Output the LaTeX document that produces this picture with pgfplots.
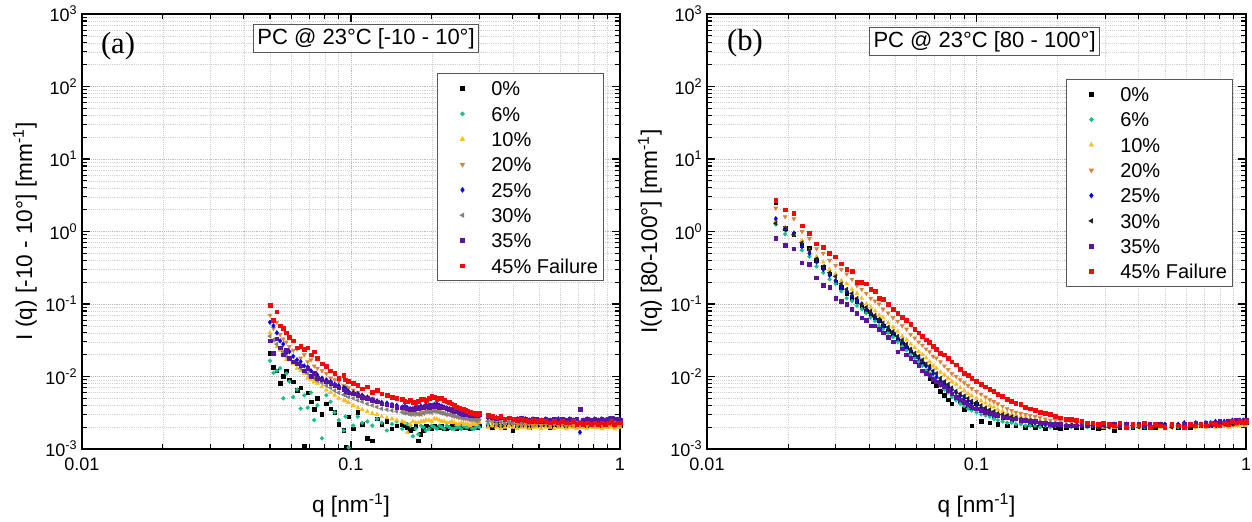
\documentclass[border=0pt]{standalone}
\usepackage{fontspec}
\setmainfont{Liberation Sans}
\newfontfamily\serifb{Liberation Serif}
\usepackage{pgfplots}
\usepackage{pgfplotstable}
\pgfplotsset{compat=1.18}

\definecolor{c0}{RGB}{0,0,0}
\definecolor{c6}{RGB}{25,190,140}
\definecolor{c10}{RGB}{250,190,30}
\definecolor{c20}{RGB}{220,130,55}
\definecolor{c25}{RGB}{10,10,220}
\definecolor{c30a}{RGB}{128,128,128}
\definecolor{c30b}{RGB}{35,35,35}
\definecolor{c35}{RGB}{90,20,160}
\definecolor{c45}{RGB}{240,10,10}

\pgfplotstableread{
q s0 s6 s10 s20 s25 s30 s35 s45
0.0500 0.021 0.0165 0.040 0.070 0.056 0.036 0.031 0.095
0.0515 0.0135 0.0112 0.031 0.046 0.050 0.032 0.021 0.060
0.0530 0.0120 0.0120 0.026 0.056 0.040 0.028 0.033 0.078
0.0545 0.0081 0.0130 0.023 0.038 0.031 0.025 0.025 0.050
0.0560 0.0100 0.0050 0.020 0.033 0.028 0.022 0.020 0.046
0.0575 0.0120 0.0110 0.017 0.030 0.021 0.019 0.023 0.040
0.0590 0.0090 0.0085 0.018 0.026 0.022 0.018 0.018 0.035
0.0610 0.0085 0.0052 0.015 0.023 0.019 0.016 0.016 0.031
0.0630 0.0065 0.0066 0.013 0.024 0.017 0.015 0.015 0.025
0.0650 0.0070 0.0036 0.012 0.018 0.016 0.013 0.014 0.026
0.0670 0.0011 0.0055 0.011 0.020 0.014 0.012 0.012 0.024
0.0690 0.0060 0.0037 0.0095 0.016 0.0135 0.011 0.013 0.025
0.0710 0.0045 0.0060 0.0090 0.017 0.012 0.010 0.010 0.020
0.0730 0.0035 0.0025 0.0085 0.014 0.011 0.0095 0.011 0.022
0.0750 0.0050 0.0040 0.0080 0.013 0.0105 0.0088 0.0095 0.018
0.0780 0.0030 0.0014 0.0072 0.012 0.0095 0.0082 0.0090 0.015
0.0810 0.0042 0.0055 0.0065 0.011 0.0090 0.0075 0.0085 0.014
0.0840 0.0036 0.0045 0.0060 0.0095 0.0085 0.0070 0.0080 0.012
0.0870 0.0032 0.0032 0.0055 0.0090 0.0078 0.0064 0.0075 0.011
0.0900 0.0022 0.0025 0.0050 0.0085 0.0075 0.0060 0.0070 0.0095
0.0940 0.0018 0.0018 0.0047 0.0075 0.0070 0.0056 0.0066 0.0105
0.0955 0.00105 0.0028 0.0046 0.0072 0.0068 0.0055 0.0062 0.0090
0.0980 0.0028 0.00105 0.0044 0.0070 0.0062 0.0052 0.0060 0.0085
0.1020 0.0019 0.0021 0.0040 0.0065 0.0060 0.0050 0.0058 0.0080
0.1060 0.0032 0.0028 0.0037 0.0060 0.0058 0.0047 0.0055 0.0075
0.1100 0.0022 0.0023 0.0035 0.0055 0.0055 0.0045 0.0052 0.0068
0.1150 0.0014 0.0024 0.0033 0.0052 0.0052 0.0042 0.0050 0.0072
0.1200 0.0013 0.0021 0.0031 0.0050 0.0048 0.0040 0.0047 0.0060
0.1250 0.0026 0.0026 0.0030 0.0046 0.0046 0.0038 0.0045 0.0065
0.1300 0.0022 0.0023 0.0028 0.0043 0.0044 0.0036 0.0042 0.0058
0.1360 0.0024 0.0018 0.0027 0.0041 0.0043 0.0035 0.0041 0.0055
0.1420 0.0019 0.0022 0.0026 0.0039 0.0041 0.0034 0.0040 0.0052
0.1480 0.0021 0.0024 0.0025 0.0037 0.0040 0.0033 0.0038 0.0050
0.1550 0.0022 0.0019 0.0024 0.0035 0.0038 0.0032 0.0037 0.0048
0.1585 0.0021 0.0023 0.0023 0.0034 0.0039 0.0031 0.0038 0.0046
0.1620 0.0020 0.0022 0.0017 0.0033 0.0037 0.0031 0.0036 0.0045
0.1660 0.0018 0.0021 0.0022 0.0031 0.0036 0.0030 0.0035 0.0047
0.1700 0.0019 0.0015 0.0024 0.0032 0.0036 0.0030 0.0035 0.0044
0.1740 0.0021 0.0019 0.0023 0.0030 0.0038 0.0031 0.0037 0.0043
0.1780 0.0013 0.0016 0.0023 0.0031 0.0037 0.0030 0.0036 0.0046
0.1820 0.0016 0.0021 0.0024 0.0033 0.0039 0.0030 0.0038 0.0049
0.1860 0.0018 0.0020 0.0024 0.0032 0.0038 0.0031 0.0037 0.0048
0.1900 0.0021 0.0018 0.0025 0.0032 0.0041 0.0033 0.0039 0.0047
0.1950 0.0020 0.0019 0.0025 0.0033 0.0040 0.0032 0.0038 0.0050
0.1995 0.0019 0.0021 0.0024 0.0034 0.0039 0.0032 0.0040 0.0054
0.2040 0.0021 0.0020 0.0026 0.0034 0.0041 0.0033 0.0039 0.0052
0.2085 0.0020 0.0019 0.0026 0.0033 0.0042 0.0033 0.0039 0.0049
0.2130 0.0020 0.0021 0.0025 0.0033 0.0040 0.0032 0.0038 0.0050
0.2175 0.0021 0.0020 0.0024 0.0032 0.0039 0.0031 0.0037 0.0051
0.2220 0.0019 0.0019 0.0024 0.0031 0.0038 0.0031 0.0037 0.0047
0.2270 0.0019 0.0021 0.0023 0.0030 0.0037 0.0030 0.0036 0.0045
0.2320 0.0020 0.0020 0.0023 0.0030 0.0036 0.0030 0.0035 0.0044
0.2370 0.0021 0.0019 0.0024 0.0029 0.0035 0.0029 0.0034 0.0042
0.2420 0.0021 0.0019 0.0023 0.0028 0.0034 0.0029 0.0033 0.0040
0.2470 0.0019 0.0020 0.0022 0.0028 0.0033 0.0028 0.0033 0.0038
0.2520 0.0020 0.0020 0.0022 0.0027 0.0032 0.0028 0.0032 0.0037
0.2570 0.0021 0.0019 0.0023 0.0027 0.0031 0.0027 0.0031 0.0036
0.2620 0.0020 0.0021 0.0022 0.0026 0.0031 0.0027 0.0030 0.0035
0.2670 0.0020 0.0020 0.0022 0.0026 0.0030 0.0027 0.0031 0.0034
0.2720 0.0021 0.0020 0.0022 0.0026 0.0030 0.0026 0.0030 0.0033
0.2770 0.0019 0.0021 0.0021 0.0025 0.0030 0.0026 0.0029 0.0032
0.2820 0.0020 0.0019 0.0022 0.0025 0.0029 0.0026 0.0029 0.0031
0.2870 0.0021 0.0019 0.0022 0.0026 0.0028 0.0025 0.0030 0.0031
0.2920 0.0021 0.0020 0.0022 0.0025 0.0028 0.0025 0.0029 0.0030
0.2960 0.0020 0.0021 0.0023 0.0024 0.0029 0.0026 0.0029 0.0030
0.3000 0.0021 0.0020 0.0023 0.0025 0.0029 0.0026 0.0030 0.0031
0.323 0.0021 0.0022 0.0020 0.0024 0.0027 0.0024 0.0028 0.0029
0.335 0.0020 0.0021 0.0021 0.0023 0.0026 0.0025 0.0027 0.0028
0.347 0.0022 0.0022 0.0020 0.0022 0.0027 0.0024 0.0026 0.0027
0.360 0.0021 0.0021 0.0019 0.0023 0.0026 0.0024 0.0027 0.0028
0.373 0.0020 0.0022 0.0020 0.0022 0.0025 0.0023 0.0026 0.0026
0.387 0.0022 0.0021 0.0021 0.0023 0.0026 0.0024 0.0027 0.0027
0.400 0.0018 0.0022 0.0020 0.0022 0.0025 0.0023 0.0026 0.0026
0.415 0.0021 0.0021 0.0019 0.0022 0.0026 0.0024 0.0026 0.0025
0.430 0.0022 0.0022 0.0020 0.0021 0.0025 0.0023 0.0027 0.0026
0.445 0.0021 0.0021 0.0020 0.0022 0.0026 0.0024 0.0026 0.0025
0.460 0.0020 0.0022 0.0019 0.0022 0.0025 0.0023 0.0025 0.0024
0.475 0.0022 0.0021 0.0020 0.0021 0.0026 0.0024 0.0026 0.0025
0.490 0.0021 0.0022 0.0020 0.0022 0.0025 0.0023 0.0026 0.0024
0.510 0.0022 0.0021 0.0019 0.0021 0.0025 0.0024 0.0025 0.0025
0.530 0.0021 0.0022 0.0020 0.0022 0.0026 0.0023 0.0026 0.0024
0.550 0.0020 0.0021 0.0020 0.0021 0.0025 0.0024 0.0025 0.0023
0.570 0.0022 0.0022 0.0019 0.0022 0.0025 0.0023 0.0026 0.0024
0.590 0.0021 0.0021 0.0020 0.0021 0.0026 0.0024 0.0025 0.0023
0.610 0.0022 0.0022 0.0020 0.0022 0.0025 0.0023 0.0026 0.0024
0.630 0.0021 0.0021 0.0019 0.0021 0.0025 0.0024 0.0025 0.0023
0.650 0.0022 0.0022 0.0020 0.0022 0.0026 0.0023 0.0026 0.0023
0.670 0.0021 0.0021 0.0020 0.0021 0.0025 0.0024 0.0025 0.0024
0.690 0.0022 0.0022 0.0019 0.0022 0.0025 0.0023 0.0026 0.0022
0.710 0.0021 0.0021 0.0020 0.0021 0.0017 0.0024 0.0035 0.0023
0.730 0.0022 0.0022 0.0020 0.0022 0.0025 0.0023 0.0025 0.0022
0.755 0.0021 0.0021 0.0019 0.0021 0.0026 0.0024 0.0026 0.0023
0.780 0.0022 0.0022 0.0020 0.0022 0.0025 0.0023 0.0025 0.0022
0.805 0.0021 0.0021 0.0020 0.0021 0.0026 0.0024 0.0026 0.0023
0.830 0.0022 0.0022 0.0020 0.0022 0.0025 0.0023 0.0025 0.0022
0.855 0.0021 0.0021 0.0019 0.0021 0.0026 0.0024 0.0026 0.0023
0.880 0.0022 0.0022 0.0020 0.0022 0.0025 0.0023 0.0025 0.0022
0.905 0.0021 0.0021 0.0020 0.0021 0.0026 0.0024 0.0026 0.0023
0.930 0.0022 0.0022 0.0020 0.0022 0.0025 0.0023 0.0027 0.0024
0.955 0.0021 0.0021 0.0019 0.0021 0.0026 0.0024 0.0026 0.0022
0.980 0.0022 0.0022 0.0020 0.0022 0.0025 0.0023 0.0026 0.0023
1.000 0.0021 0.0021 0.0020 0.0021 0.0026 0.0024 0.0025 0.0023
}\tabA

\pgfplotstableread{
q s0 s6 s10 s20 s25 s30 s35 s45
0.0180 2.55 1.25 1.40 2.10 1.50 1.30 0.80 2.70
0.0195 1.10 0.92 1.15 1.60 1.10 1.05 0.65 2.00
0.0210 0.92 0.90 0.95 1.50 0.95 0.90 0.58 1.80
0.0225 0.65 0.55 0.75 1.00 0.62 0.70 0.37 1.20
0.0240 0.60 0.45 0.55 0.80 0.50 0.55 0.35 0.95
0.0255 0.40 0.33 0.45 0.58 0.38 0.42 0.23 0.68
0.0270 0.32 0.27 0.38 0.50 0.30 0.33 0.18 0.60
0.0285 0.26 0.22 0.30 0.40 0.25 0.27 0.17 0.50
0.0300 0.20 0.19 0.26 0.34 0.21 0.24 0.12 0.45
0.0315 0.17 0.15 0.21 0.30 0.17 0.19 0.11 0.36
0.0330 0.14 0.12 0.19 0.26 0.15 0.16 0.10 0.30
0.0345 0.12 0.11 0.16 0.22 0.13 0.14 0.085 0.28
0.0360 0.11 0.095 0.14 0.18 0.11 0.12 0.075 0.20
0.0375 0.090 0.085 0.12 0.16 0.10 0.10 0.065 0.20
0.0390 0.080 0.075 0.10 0.14 0.085 0.090 0.060 0.19
0.0405 0.070 0.065 0.090 0.12 0.075 0.080 0.050 0.16
0.0420 0.065 0.058 0.080 0.11 0.065 0.070 0.050 0.15
0.0435 0.060 0.050 0.070 0.10 0.058 0.062 0.045 0.12
0.0450 0.050 0.045 0.065 0.085 0.050 0.055 0.040 0.115
0.0470 0.042 0.040 0.055 0.075 0.045 0.048 0.035 0.10
0.0490 0.038 0.035 0.048 0.065 0.040 0.042 0.030 0.085
0.0510 0.032 0.030 0.042 0.058 0.034 0.036 0.022 0.075
0.0530 0.028 0.026 0.036 0.050 0.030 0.032 0.024 0.065
0.0550 0.025 0.023 0.032 0.045 0.026 0.028 0.020 0.060
0.0570 0.022 0.020 0.028 0.038 0.023 0.024 0.018 0.052
0.0590 0.019 0.018 0.025 0.034 0.020 0.021 0.016 0.045
0.0610 0.016 0.016 0.022 0.030 0.018 0.019 0.014 0.040
0.0630 0.015 0.014 0.020 0.027 0.016 0.017 0.012 0.036
0.0650 0.012 0.012 0.018 0.024 0.014 0.015 0.011 0.032
0.0670 0.0095 0.011 0.016 0.022 0.013 0.014 0.0105 0.030
0.0690 0.0085 0.0095 0.014 0.019 0.011 0.012 0.0092 0.026
0.0710 0.0075 0.0085 0.013 0.018 0.0098 0.011 0.0085 0.024
0.0735 0.0062 0.0075 0.0115 0.016 0.0088 0.0095 0.0078 0.021
0.0760 0.0055 0.0066 0.0105 0.014 0.0079 0.0085 0.0072 0.020
0.0785 0.0048 0.0060 0.0095 0.0125 0.0072 0.0078 0.0065 0.018
0.0810 0.0042 0.0052 0.0085 0.011 0.0066 0.0070 0.0058 0.016
0.0840 0.0052 0.0047 0.0078 0.010 0.0060 0.0063 0.0052 0.0145
0.0870 0.0045 0.0042 0.0070 0.0090 0.0054 0.0058 0.0048 0.0125
0.0900 0.0035 0.0039 0.0064 0.0082 0.0050 0.0054 0.0044 0.011
0.0930 0.0038 0.0036 0.0058 0.0075 0.0046 0.0050 0.0041 0.0105
0.0960 0.0021 0.0034 0.0054 0.0068 0.0043 0.0046 0.0038 0.0095
0.1000 0.0042 0.0032 0.0050 0.0062 0.0040 0.0044 0.0036 0.0085
0.1040 0.0024 0.0030 0.0046 0.0057 0.0037 0.0040 0.0034 0.0078
0.1080 0.0032 0.0029 0.0043 0.0052 0.0035 0.0037 0.0032 0.0072
0.1120 0.0023 0.0028 0.0040 0.0048 0.0033 0.0035 0.0031 0.0066
0.1160 0.0029 0.0026 0.0038 0.0045 0.0031 0.0033 0.0030 0.0062
0.1200 0.0022 0.0025 0.0035 0.0042 0.0030 0.0031 0.0029 0.0057
0.1250 0.0027 0.0024 0.0033 0.0039 0.0029 0.0030 0.0028 0.0053
0.1300 0.0021 0.0023 0.0031 0.0036 0.0028 0.0029 0.0027 0.0049
0.1350 0.0025 0.0023 0.0030 0.0034 0.0027 0.0028 0.0026 0.0046
0.1400 0.0021 0.0022 0.0029 0.0032 0.0026 0.0027 0.0026 0.0043
0.1460 0.0024 0.0022 0.0028 0.0031 0.0025 0.0026 0.0025 0.0041
0.1520 0.0020 0.0021 0.0027 0.0030 0.0025 0.0025 0.0025 0.0038
0.1580 0.0022 0.0021 0.0026 0.0029 0.0024 0.0025 0.0024 0.0036
0.1650 0.0020 0.0021 0.0025 0.0028 0.0023 0.0024 0.0024 0.0034
0.1720 0.0021 0.0020 0.0024 0.0027 0.0023 0.0023 0.0023 0.0032
0.1800 0.0019 0.0021 0.0024 0.0026 0.0022 0.0023 0.0023 0.0031
0.1880 0.0021 0.0020 0.0023 0.0025 0.0022 0.0022 0.0022 0.0030
0.1960 0.0020 0.0021 0.0023 0.0025 0.0022 0.0022 0.0022 0.0028
0.2050 0.0019 0.0021 0.0022 0.0024 0.0021 0.0022 0.0022 0.0027
0.2150 0.0020 0.0021 0.0022 0.0024 0.0021 0.0021 0.0021 0.0026
0.2250 0.0021 0.0020 0.0022 0.0023 0.0021 0.0021 0.0021 0.0026
0.2350 0.0020 0.0021 0.0021 0.0023 0.0021 0.0021 0.0021 0.0025
0.246 0.0020 0.0021 0.0021 0.0022 0.0021 0.0021 0.0022 0.0024
0.258 0.0021 0.0020 0.0022 0.0023 0.0021 0.0022 0.0021 0.0023
0.270 0.0020 0.0021 0.0021 0.0022 0.0022 0.0021 0.0022 0.0023
0.283 0.0019 0.0020 0.0021 0.0022 0.0021 0.0020 0.0021 0.0022
0.296 0.0020 0.0021 0.0020 0.0021 0.0022 0.0021 0.0022 0.0023
0.310 0.0021 0.0020 0.0021 0.0022 0.0021 0.0020 0.0021 0.0022
0.325 0.0018 0.0021 0.0020 0.0021 0.0022 0.0021 0.0022 0.0021
0.340 0.0020 0.0020 0.0021 0.0022 0.0021 0.0020 0.0021 0.0023
0.360 0.0021 0.0021 0.0020 0.0021 0.0022 0.0021 0.0022 0.0020
0.380 0.0020 0.0020 0.0021 0.0022 0.0021 0.0021 0.0021 0.0022
0.400 0.0021 0.0021 0.0020 0.0021 0.0022 0.0020 0.0022 0.0021
0.420 0.0020 0.0020 0.0021 0.0022 0.0021 0.0021 0.0021 0.0023
0.440 0.0021 0.0021 0.0020 0.0021 0.0022 0.0021 0.0022 0.0020
0.460 0.0020 0.0020 0.0021 0.0022 0.0021 0.0020 0.0021 0.0022
0.480 0.0021 0.0021 0.0020 0.0021 0.0022 0.0021 0.0022 0.0021
0.500 0.0020 0.0020 0.0021 0.0022 0.0022 0.0021 0.0021 0.0020
0.530 0.0021 0.0021 0.0020 0.0021 0.0021 0.0020 0.0022 0.0022
0.560 0.0020 0.0020 0.0021 0.0022 0.0022 0.0021 0.0021 0.0021
0.590 0.0021 0.0021 0.0020 0.0021 0.0023 0.0021 0.0022 0.0020
0.620 0.0020 0.0021 0.0021 0.0022 0.0022 0.0020 0.0022 0.0022
0.650 0.0021 0.0020 0.0020 0.0021 0.0023 0.0021 0.0023 0.0021
0.680 0.0021 0.0021 0.0021 0.0022 0.0022 0.0022 0.0022 0.0022
0.710 0.0022 0.0020 0.0020 0.0021 0.0023 0.0021 0.0023 0.0021
0.740 0.0021 0.0021 0.0021 0.0022 0.0023 0.0022 0.0022 0.0023
0.770 0.0022 0.0021 0.0020 0.0021 0.0024 0.0021 0.0023 0.0022
0.800 0.0021 0.0022 0.0021 0.0022 0.0023 0.0022 0.0024 0.0021
0.830 0.0022 0.0021 0.0021 0.0021 0.0024 0.0022 0.0023 0.0023
0.860 0.0022 0.0022 0.0020 0.0022 0.0024 0.0023 0.0024 0.0022
0.890 0.0023 0.0022 0.0021 0.0022 0.0025 0.0022 0.0024 0.0024
0.920 0.0022 0.0023 0.0021 0.0022 0.0024 0.0023 0.0025 0.0023
0.950 0.0023 0.0022 0.0021 0.0023 0.0025 0.0023 0.0024 0.0024
0.980 0.0023 0.0023 0.0022 0.0022 0.0025 0.0024 0.0025 0.0023
1.000 0.0023 0.0022 0.0021 0.0023 0.0024 0.0023 0.0025 0.0024
}\tabB

\begin{document}
\begin{tikzpicture}
\useasboundingbox (0,0) rectangle (939pt,390.75pt);

\begin{axis}[
    xmode=log, ymode=log,
    scale only axis, height=326.25pt, width=403.5pt,
    at={(61.5pt,54pt)}, anchor=south west,
    xmin=0.01, xmax=1, ymin=1e-3, ymax=1e3,
    xtick={0.01,0.1,1}, xticklabels={0.01,0.1,1},
    ytick={0.001,0.01,0.1,1,10,100,1000},
    yticklabels={10\textsuperscript{-3},10\textsuperscript{-2},10\textsuperscript{-1},10\textsuperscript{0},10\textsuperscript{1},10\textsuperscript{2},10\textsuperscript{3}},
    minor xtick={0.02,0.03,0.04,0.05,0.06,0.07,0.08,0.09,0.2,0.3,0.4,0.5,0.6,0.7,0.8,0.9},
    minor ytick={0.002,0.003,0.004,0.005,0.006,0.007,0.008,0.009,0.02,0.03,0.04,0.05,0.06,0.07,0.08,0.09,0.2,0.3,0.4,0.5,0.6,0.7,0.8,0.9,2,3,4,5,6,7,8,9,20,30,40,50,60,70,80,90,200,300,400,500,600,700,800,900},
    grid=both,
    major grid style={gray!55, densely dotted, line width=0.5pt},
    minor grid style={gray!35, densely dotted, line width=0.4pt},
    tick align=inside,
    major tick length=6pt, minor tick length=3.5pt,
    every tick/.style={black, line width=0.8pt},
    axis line style={black, line width=1.1pt},
    tick label style={font=\fontsize{13.5}{16}\selectfont},
    xticklabel style={yshift=-3.5pt},
    xlabel style={at={(axis description cs:0.5,-0.13)}, anchor=center, font=\fontsize{17}{19}\selectfont},
    ylabel style={at={(axis description cs:-0.106,0.5)}, anchor=center, font=\fontsize{17}{19}\selectfont},
    xlabel={q [nm\textsuperscript{-1}]},
    ylabel={I (q) [-10 - 10°] [mm\textsuperscript{-1}]},
    legend cell align=left,
    legend image code/.code={\path[draw=none, fill=none] (0pt,0pt) -- (32pt,0pt);
      \draw plot coordinates {(16pt,0pt)};},
    legend style={at={(0.660,0.864)}, anchor=north west, draw=gray!70!black, line width=0.6pt, fill=white,
      font=\fontsize{15}{18}\selectfont, inner xsep=2.75pt, inner ysep=1.75pt,
      row sep=0pt, column sep=4.65pt,
      nodes={inner sep=1pt, text height=14.05pt, text depth=2.95pt}},
  ]
\addplot[only marks, mark=square*, mark size=1.35pt, color=c0] table[x=q,y=s0] {\tabA};
\addplot[only marks, mark=*, mark size=1.4pt, color=c6] table[x=q,y=s6] {\tabA};
\addplot[only marks, mark=triangle*, mark size=1.7pt, color=c10] table[x=q,y=s10] {\tabA};
\addplot[only marks, mark=triangle*, mark size=1.7pt, color=c20, mark options={rotate=180}] table[x=q,y=s20] {\tabA};
\addplot[only marks, mark=diamond*, mark size=1.7pt, color=c25] table[x=q,y=s25] {\tabA};
\addplot[only marks, mark=triangle*, mark size=1.7pt, color=c30a, mark options={rotate=90}] table[x=q,y=s30] {\tabA};
\addplot[only marks, mark=square*, mark size=1.35pt, color=c35] table[x=q,y=s35] {\tabA};
\addplot[only marks, mark=square*, mark size=1.4pt, color=c45] table[x=q,y=s45] {\tabA};
\legend{0\%,6\%,10\%,20\%,25\%,30\%,35\%,45\% Failure}
\node[draw=gray!70!black, line width=0.6pt, fill=white, inner xsep=3pt, inner ysep=3pt,
  font=\fontsize{16.5}{19}\selectfont] at (rel axis cs:0.528,0.944) {PC @ 23°C [-10 - 10°]};
\node[font=\serifb\fontsize{23}{26}\selectfont] at (rel axis cs:0.067,0.926) {(a)};
\end{axis}

\begin{axis}[
    xmode=log, ymode=log,
    scale only axis, height=326.25pt, width=404.25pt,
    at={(530.25pt,54pt)}, anchor=south west,
    xmin=0.01, xmax=1, ymin=1e-3, ymax=1e3,
    xtick={0.01,0.1,1}, xticklabels={0.01,0.1,1},
    ytick={0.001,0.01,0.1,1,10,100,1000},
    yticklabels={10\textsuperscript{-3},10\textsuperscript{-2},10\textsuperscript{-1},10\textsuperscript{0},10\textsuperscript{1},10\textsuperscript{2},10\textsuperscript{3}},
    minor xtick={0.02,0.03,0.04,0.05,0.06,0.07,0.08,0.09,0.2,0.3,0.4,0.5,0.6,0.7,0.8,0.9},
    minor ytick={0.002,0.003,0.004,0.005,0.006,0.007,0.008,0.009,0.02,0.03,0.04,0.05,0.06,0.07,0.08,0.09,0.2,0.3,0.4,0.5,0.6,0.7,0.8,0.9,2,3,4,5,6,7,8,9,20,30,40,50,60,70,80,90,200,300,400,500,600,700,800,900},
    grid=both,
    major grid style={gray!55, densely dotted, line width=0.5pt},
    minor grid style={gray!35, densely dotted, line width=0.4pt},
    tick align=inside,
    major tick length=6pt, minor tick length=3.5pt,
    every tick/.style={black, line width=0.8pt},
    axis line style={black, line width=1.1pt},
    tick label style={font=\fontsize{13.5}{16}\selectfont},
    xticklabel style={yshift=-3.5pt},
    xlabel style={at={(axis description cs:0.5,-0.13)}, anchor=center, font=\fontsize{17}{19}\selectfont},
    ylabel style={at={(axis description cs:-0.106,0.5)}, anchor=center, font=\fontsize{17}{19}\selectfont},
    xlabel={q [nm\textsuperscript{-1}]},
    ylabel={I(q) [80-100°] [mm\textsuperscript{-1}]},
    legend cell align=left,
    legend image code/.code={\path[draw=none, fill=none] (0pt,0pt) -- (32pt,0pt);
      \draw plot coordinates {(16pt,0pt)};},
    legend style={at={(0.666,0.851)}, anchor=north west, draw=gray!70!black, line width=0.6pt, fill=white,
      font=\fontsize{15}{18}\selectfont, inner xsep=2.75pt, inner ysep=1.75pt,
      row sep=0pt, column sep=4.65pt,
      nodes={inner sep=1pt, text height=14.05pt, text depth=2.95pt}},
  ]
\addplot[only marks, mark=square*, mark size=1.35pt, color=c0] table[x=q,y=s0] {\tabB};
\addplot[only marks, mark=*, mark size=1.4pt, color=c6] table[x=q,y=s6] {\tabB};
\addplot[only marks, mark=triangle*, mark size=1.7pt, color=c10] table[x=q,y=s10] {\tabB};
\addplot[only marks, mark=triangle*, mark size=1.7pt, color=c20, mark options={rotate=180}] table[x=q,y=s20] {\tabB};
\addplot[only marks, mark=diamond*, mark size=1.7pt, color=c25] table[x=q,y=s25] {\tabB};
\addplot[only marks, mark=triangle*, mark size=1.7pt, color=c30b, mark options={rotate=90}] table[x=q,y=s30] {\tabB};
\addplot[only marks, mark=square*, mark size=1.35pt, color=c35] table[x=q,y=s35] {\tabB};
\addplot[only marks, mark=square*, mark size=1.4pt, color=c45] table[x=q,y=s45] {\tabB};
\legend{0\%,6\%,10\%,20\%,25\%,30\%,35\%,45\% Failure}
\node[draw=gray!70!black, line width=0.6pt, fill=white, inner xsep=3pt, inner ysep=3pt,
  font=\fontsize{16.5}{19}\selectfont] at (rel axis cs:0.515,0.937) {PC @ 23°C [80 - 100°]};
\node[font=\serifb\fontsize{23}{26}\selectfont] at (rel axis cs:0.0705,0.933) {(b)};
\end{axis}
\end{tikzpicture}
\end{document}
